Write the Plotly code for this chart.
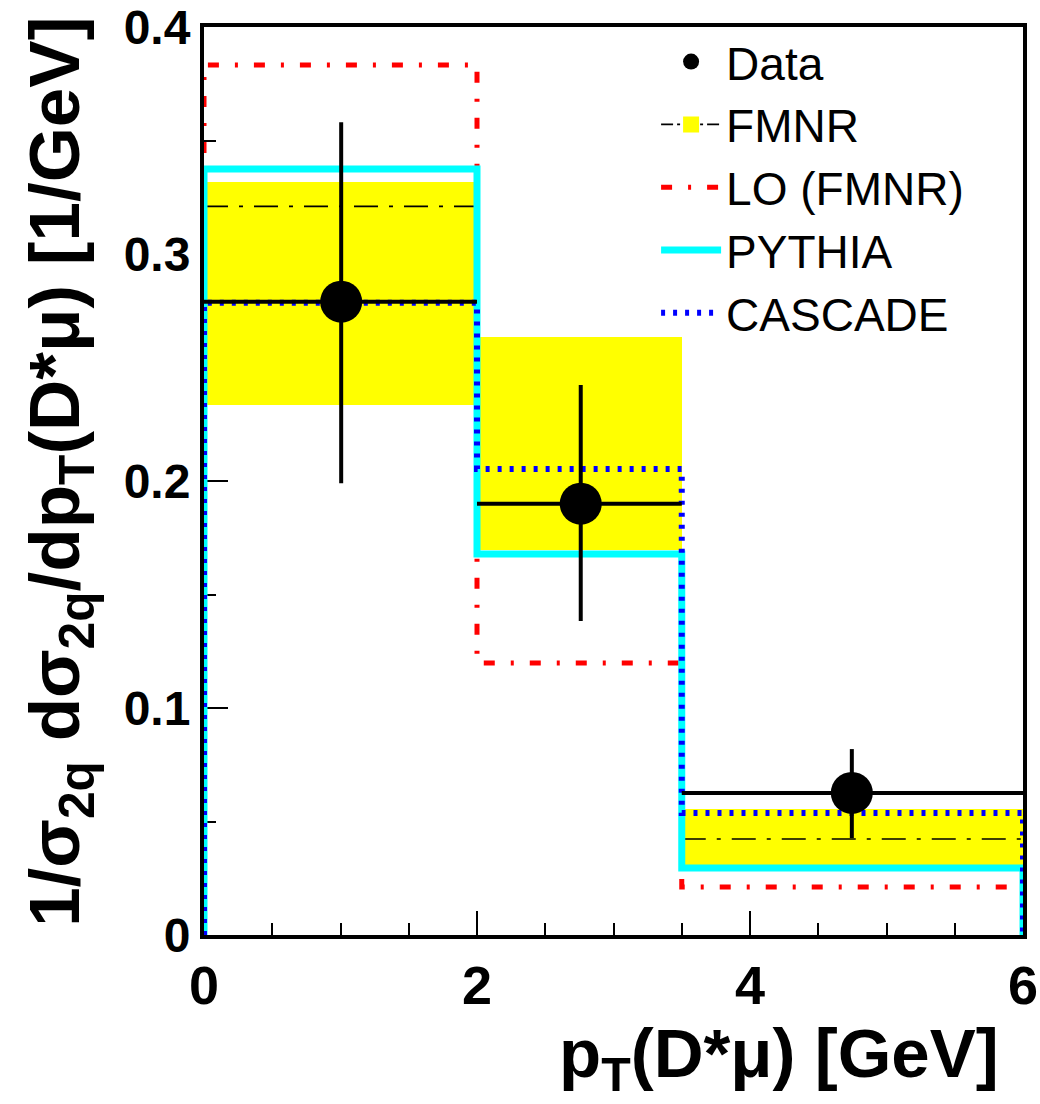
import plotly.graph_objects as go

# ---------------- data ----------------
bin_edges = [0.0, 2.0, 3.5, 6.0]

data_x = [1.005, 2.76, 4.746]
data_y = [0.279, 0.190, 0.0626]
data_err_up = [0.079, 0.0523, 0.0193]
data_err_down = [0.080, 0.0517, 0.0199]

fmnr_central = [0.321, 0.190, 0.0423]
fmnr_low = [0.2335, 0.1696, 0.0308]
fmnr_high = [0.3317, 0.2634, 0.0555]

lo_fmnr = [0.3833, 0.1198, 0.0211]
pythia = [0.3374, 0.1678, 0.0295]
cascade = [0.2785, 0.2053, 0.0537]

x_ticks = [0, 2, 4, 6]
y_ticks = [0, 0.1, 0.2, 0.3, 0.4]
y_tick_text = ["0", "0.1", "0.2", "0.3", "0.4"]

# ---------------- helpers ----------------
centers = [(a + b) / 2 for a, b in zip(bin_edges[:-1], bin_edges[1:])]
widths = [b - a for a, b in zip(bin_edges[:-1], bin_edges[1:])]


def step_xy(values):
    # histogram outline down to zero at both ends (used with line_shape='hv')
    xs = [bin_edges[0]] + list(bin_edges[:-1]) + [bin_edges[-1]]
    ys = [0.0] + list(values) + [0.0]
    return xs, ys


def flat_xy(values):
    # horizontal segments only (no verticals) for the FMNR central line
    xs, ys = [], []
    for a, b, v in zip(bin_edges[:-1], bin_edges[1:], values):
        xs += [a, b, None]
        ys += [v, v, None]
    return xs, ys


FMNR_DASH = "24px,11px,4px,11px"

fig = go.Figure()

# FMNR uncertainty band
fig.add_trace(go.Bar(
    x=centers, y=[h - l for h, l in zip(fmnr_high, fmnr_low)], base=fmnr_low,
    width=widths, marker=dict(color="#ffff00", line=dict(width=0)),
    name="FMNR", legendgroup="fmnr", showlegend=False,
))

# FMNR central value
fx, fy = flat_xy(fmnr_central)
fig.add_trace(go.Scatter(
    x=fx, y=fy, mode="lines",
    line=dict(color="black", width=1.6, dash=FMNR_DASH),
    name="FMNR", legendgroup="fmnr", showlegend=False, hoverinfo="skip",
))

# legend entry for FMNR (band + central line)
fig.add_trace(go.Scatter(
    x=[None], y=[None], mode="lines+markers",
    line=dict(color="black", width=1.6, dash="12px,4px,3px,4px"),
    marker=dict(symbol="square", size=16, color="#ffff00"),
    name="FMNR", legendgroup="fmnr", legendrank=2,
))

# LO (FMNR)
sx, sy = step_xy(lo_fmnr)
fig.add_trace(go.Scatter(
    x=sx, y=sy, mode="lines", line_shape="hv",
    line=dict(color="#ff0000", width=5, dash="11px,16px,3px,16px"),
    name="LO (FMNR)", legendrank=3,
))

# PYTHIA
sx, sy = step_xy(pythia)
fig.add_trace(go.Scatter(
    x=sx, y=sy, mode="lines", line_shape="hv",
    line=dict(color="#00ffff", width=7),
    name="PYTHIA", legendrank=4,
))

# CASCADE
sx, sy = step_xy(cascade)
fig.add_trace(go.Scatter(
    x=sx, y=sy, mode="lines", line_shape="hv",
    line=dict(color="#0000ff", width=6, dash="4px,8px"),
    name="CASCADE", legendrank=5,
))

# Data
fig.add_trace(go.Scatter(
    x=data_x, y=data_y, mode="markers",
    marker=dict(symbol="circle", size=42, color="black"),
    error_y=dict(type="data", symmetric=False, array=data_err_up,
                 arrayminus=data_err_down, color="black", thickness=4, width=0),
    error_x=dict(type="data", symmetric=False,
                 array=[b - x for b, x in zip(bin_edges[1:], data_x)],
                 arrayminus=[x - a for a, x in zip(bin_edges[:-1], data_x)],
                 color="black", thickness=4, width=0),
    name="Data", legendrank=1,
))

x_tick_font = dict(family="Liberation Sans", size=54, color="black", weight="bold")
y_tick_font = dict(family="Liberation Sans", size=48, color="black", weight="bold")

fig.update_layout(
    width=1040, height=1104,
    margin=dict(l=204, r=17, t=27, b=169, autoexpand=False),
    paper_bgcolor="white", plot_bgcolor="white",
    barmode="overlay", bargap=0,
    showlegend=True,
    legend=dict(
        x=0.552, y=1.002, xanchor="left", yanchor="top",
        font=dict(family="Liberation Sans", size=46, color="black"),
        bgcolor="rgba(0,0,0,0)", borderwidth=0,
        itemwidth=60, tracegroupgap=0, traceorder="normal",
    ),
    xaxis=dict(
        range=[0, 6], tickvals=x_ticks, ticktext=[str(v) for v in x_ticks],
        ticks="inside", ticklen=24, tickwidth=1.5, tickcolor="black",
        minor=dict(dtick=0.5, ticks="inside", ticklen=12, tickwidth=1.5, tickcolor="black"),
        showline=True, linecolor="black", linewidth=4, mirror=True,
        showgrid=False, zeroline=False, tickfont=x_tick_font,
        layer="below traces", automargin=False, ticklabeloverflow="allow",
    ),
    yaxis=dict(
        range=[0, 0.4], tickvals=y_ticks, ticktext=y_tick_text,
        ticks="inside", ticklen=24, tickwidth=1.5, tickcolor="black",
        minor=dict(dtick=0.05, ticks="inside", ticklen=12, tickwidth=1.5, tickcolor="black"),
        showline=True, linecolor="black", linewidth=4, mirror=True,
        showgrid=False, zeroline=False, tickfont=y_tick_font,
        layer="below traces", automargin=False, ticklabeloverflow="allow",
    ),
    annotations=[
        dict(
            text="p<sub>T</sub>(D*μ) [GeV]", xref="paper", yref="paper",
            x=0.973, y=-0.135, xanchor="right", yanchor="middle", showarrow=False,
            font=dict(family="Liberation Sans", size=69, color="black", weight="bold"),
        ),
        dict(
            text="1/σ<sub>2q</sub> dσ<sub>2q</sub>/dp<sub>T</sub>(D*μ) [1/GeV]",
            xref="paper", yref="paper", x=-0.175, y=1.013, xanchor="center", yanchor="top",
            textangle=-90, showarrow=False,
            font=dict(family="Liberation Sans", size=71, color="black", weight="bold"),
        ),
    ],
)

fig.write_html("out.html")
